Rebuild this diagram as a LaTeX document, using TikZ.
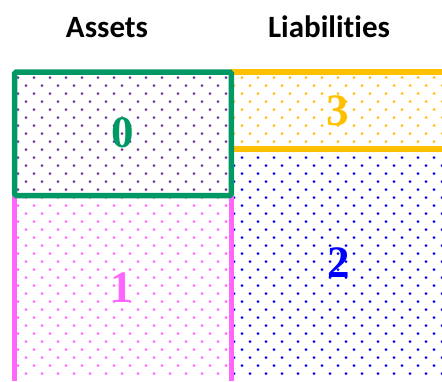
\documentclass[tikz,border=0pt]{standalone}
\usepackage{fontspec}
\newfontfamily\titlefont[Ligatures=CommonOff]{Carlito}
\newfontfamily\numfont{Liberation Serif}
\definecolor{boxgreen}{RGB}{0,153,102}
\definecolor{gold}{RGB}{255,192,0}
\definecolor{pinkm}{RGB}{255,102,255}
\definecolor{bluem}{RGB}{0,0,255}
\definecolor{purplem}{RGB}{112,48,160}
\tikzset{dotstyle/.style={fill=#1,draw=none}}
\newcommand\dotregion[5]{%
  \begin{scope}
    \clip (#2,#3) rectangle (#4,#5);
    \foreach \j in {0,...,38}{%
      \foreach \k in {0,...,27}{%
        \path[dotstyle=#1] ({mod(\j,2)==1?2+16*\k:10+16*\k},{69.5+8*\j}) circle[radius=1.5pt];
      }%
    }%
  \end{scope}}
\begin{document}
\begin{tikzpicture}[x=1pt,y=-1pt,
  title/.style={font=\titlefont\bfseries\fontsize{31}{36}\selectfont,anchor=base,inner sep=0pt},
  num/.style={font=\numfont\bfseries\fontsize{45}{50}\selectfont,anchor=base,inner sep=0pt}]
\useasboundingbox (0,0) rectangle (442,381);
% dot patterns
\dotregion{purplem}{17}{74.5}{228.5}{193}
\dotregion{pinkm}{17}{198}{228.5}{381}
\dotregion{bluem}{234}{152}{442}{381}
\dotregion{gold}{234}{75}{442}{146}
% lines
\draw[pinkm,line width=5pt] (14.7,196) -- (14.7,381);
\draw[pinkm,line width=5.5pt] (231.3,196) -- (231.3,381);
\draw[gold,line width=5.5pt] (231,72) -- (442,72);
\draw[gold,line width=6pt] (231,149) -- (442,149);
\draw[boxgreen,line width=5.5pt,rounded corners=1.5pt] (14.7,72) rectangle (231.3,195.5);
% labels
\node[title] (assets) at (107,37.7) {Assets};
\node[title] (liab) at (329,37.7) {Liabilities};
\node[num,text=boxgreen] (n0) at (123,147) {0};
\node[num,text=pinkm] (n1) at (122,302.5) {1};
\node[num,text=bluem] (n2) at (338.5,277.5) {2};
\node[num,text=gold] (n3) at (338,125) {3};
\end{tikzpicture}
\end{document}
